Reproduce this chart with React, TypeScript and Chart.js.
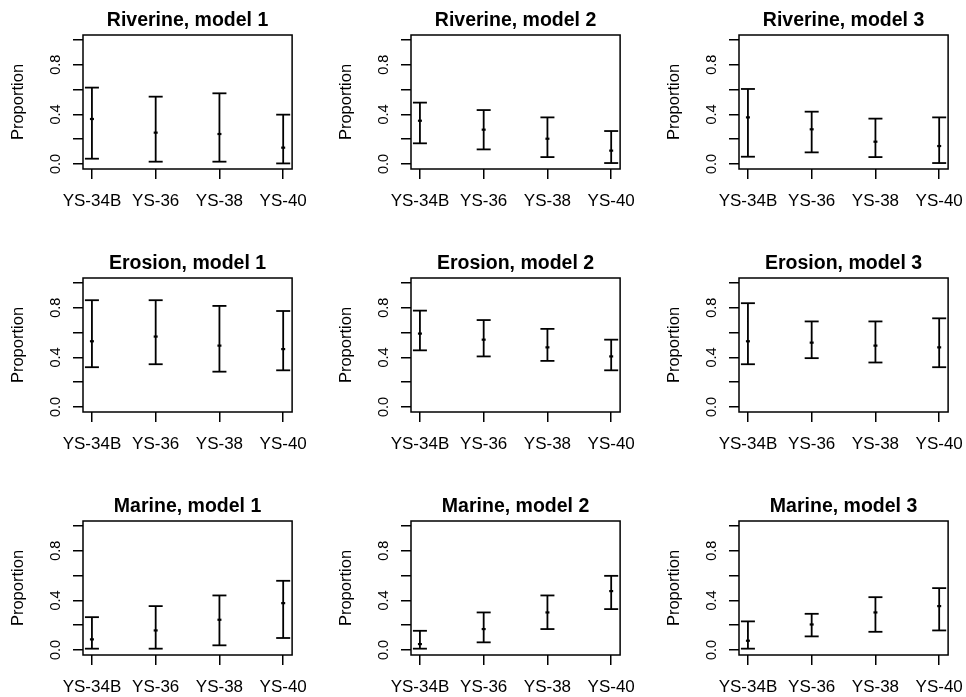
import React, { useEffect, useRef } from 'react';
import { Chart, registerables } from 'chart.js';

Chart.register(...registerables);

const categories = ['YS-34B', 'YS-36', 'YS-38', 'YS-40'];
const yTickValues = [0, 0.2, 0.4, 0.6, 0.8, 1.0];
const yTickLabels = ['0.0', '', '0.4', '', '0.8', ''];
const yAxisLabel = 'Proportion';

const panelTitles = [
  'Riverine, model 1', 'Riverine, model 2', 'Riverine, model 3',
  'Erosion, model 1', 'Erosion, model 2', 'Erosion, model 3',
  'Marine, model 1', 'Marine, model 2', 'Marine, model 3',
];

const riverine1Mid = [0.363, 0.253, 0.242, 0.132];
const riverine1Low = [0.043, 0.019, 0.019, 0.005];
const riverine1High = [0.616, 0.543, 0.570, 0.398];

const riverine2Mid = [0.349, 0.277, 0.204, 0.108];
const riverine2Low = [0.167, 0.118, 0.056, 0.008];
const riverine2High = [0.495, 0.435, 0.376, 0.266];

const riverine3Mid = [0.376, 0.280, 0.180, 0.145];
const riverine3Low = [0.059, 0.094, 0.056, 0.008];
const riverine3High = [0.605, 0.422, 0.366, 0.376];

const erosion1Mid = [0.530, 0.568, 0.495, 0.467];
const erosion1Low = [0.321, 0.345, 0.285, 0.296];
const erosion1High = [0.861, 0.861, 0.815, 0.774];

const erosion2Mid = [0.592, 0.543, 0.481, 0.408];
const erosion2Low = [0.457, 0.408, 0.372, 0.296];
const erosion2High = [0.777, 0.701, 0.630, 0.543];

const erosion3Mid = [0.530, 0.519, 0.495, 0.481];
const erosion3Low = [0.345, 0.394, 0.359, 0.321];
const erosion3High = [0.837, 0.690, 0.690, 0.715];

const marine1Mid = [0.086, 0.158, 0.244, 0.378];
const marine1Low = [0.011, 0.011, 0.038, 0.097];
const marine1High = [0.265, 0.354, 0.440, 0.558];

const marine2Mid = [0.048, 0.169, 0.303, 0.475];
const marine2Low = [0.011, 0.062, 0.169, 0.330];
const marine2High = [0.155, 0.303, 0.440, 0.598];

const marine3Mid = [0.075, 0.206, 0.303, 0.354];
const marine3Low = [0.011, 0.110, 0.147, 0.158];
const marine3High = [0.231, 0.292, 0.426, 0.499];

const panelMids = [riverine1Mid, riverine2Mid, riverine3Mid, erosion1Mid, erosion2Mid, erosion3Mid, marine1Mid, marine2Mid, marine3Mid];
const panelLows = [riverine1Low, riverine2Low, riverine3Low, erosion1Low, erosion2Low, erosion3Low, marine1Low, marine2Low, marine3Low];
const panelHighs = [riverine1High, riverine2High, riverine3High, erosion1High, erosion2High, erosion3High, marine1High, marine2High, marine3High];

const FONT = "'Liberation Sans', Arial, Helvetica, sans-serif";
const CANVAS_W = 320;
const CANVAS_H = 243;
const COL_STEP = 328;
const ROW_STEP = 243;

const boxPlugin = {
  id: 'rbox',
  afterDraw(chart: any) {
    const { ctx, chartArea } = chart;
    ctx.save();
    ctx.strokeStyle = '#000';
    ctx.lineWidth = 1.5;
    ctx.strokeRect(chartArea.left, chartArea.top, chartArea.right - chartArea.left, chartArea.bottom - chartArea.top);
    ctx.restore();
  },
};

function Panel({ title, mid, low, high, left, top }: { title: string; mid: number[]; low: number[]; high: number[]; left: number; top: number }) {
  const ref = useRef<HTMLCanvasElement | null>(null);
  useEffect(() => {
    if (!ref.current) return;
    const lineData: any[] = [];
    categories.forEach((_, i) => {
      lineData.push({ x: i + 1, y: low[i] });
      lineData.push({ x: i + 1, y: high[i] });
      lineData.push({ x: i + 1, y: null });
    });
    const capData: any[] = [];
    categories.forEach((_, i) => {
      capData.push({ x: i + 1, y: low[i] });
      capData.push({ x: i + 1, y: high[i] });
    });
    const midData = mid.map((v, i) => ({ x: i + 1, y: v }));
    const chart = new Chart(ref.current, {
      type: 'scatter',
      data: {
        datasets: [
          {
            data: lineData,
            showLine: true,
            spanGaps: false,
            borderColor: '#000',
            borderWidth: 1.8,
            pointRadius: 0,
          },
          {
            data: capData,
            showLine: false,
            pointStyle: 'line',
            pointRadius: 7,
            pointBorderWidth: 1.8,
            pointBorderColor: '#000',
            pointBackgroundColor: '#000',
          },
          {
            data: midData,
            showLine: false,
            pointStyle: 'line',
            pointRadius: 2,
            pointBorderWidth: 2.2,
            pointBorderColor: '#000',
            pointBackgroundColor: '#000',
          },
        ],
      },
      options: {
        animation: false,
        responsive: false,
        events: [],
        layout: { padding: { left: 0, right: 27, top: 0, bottom: 0 } },
        plugins: {
          legend: { display: false },
          tooltip: { enabled: false },
          title: {
            display: true,
            text: title,
            fullSize: false,
            color: '#000',
            font: { family: FONT, size: 19.5, weight: 'bold', lineHeight: 1.2 },
            padding: { top: 9, bottom: 2.6 },
          },
        },
        scales: {
          x: {
            type: 'linear',
            min: 0.86,
            max: 4.14,
            afterBuildTicks: (scale: any) => {
              scale.ticks = categories.map((_, i) => ({ value: i + 1 }));
            },
            afterFit: (scale: any) => {
              scale.height = 74;
            },
            ticks: {
              autoSkip: false,
              maxRotation: 0,
              minRotation: 0,
              color: '#000',
              padding: 12,
              font: { family: FONT, size: 17 },
              callback: (v: any) => categories[Math.round(Number(v)) - 1] ?? '',
            },
            grid: {
              display: true,
              drawOnChartArea: false,
              drawTicks: true,
              tickLength: 10,
              color: '#000',
              lineWidth: 1.5,
            },
            border: { display: false },
          },
          y: {
            type: 'linear',
            min: -0.04,
            max: 1.04,
            afterBuildTicks: (scale: any) => {
              scale.ticks = yTickValues.map((v) => ({ value: v }));
            },
            afterFit: (scale: any) => {
              scale.width = 83;
            },
            ticks: {
              autoSkip: false,
              minRotation: 90,
              maxRotation: 90,
              crossAlign: 'center',
              color: '#000',
              padding: 7.4,
              font: { family: FONT, size: 14.5 },
              callback: (v: any) => {
                const idx = yTickValues.findIndex((t) => Math.abs(t - Number(v)) < 1e-9);
                return idx >= 0 ? yTickLabels[idx] : '';
              },
            },
            title: {
              display: true,
              text: yAxisLabel,
              color: '#000',
              font: { family: FONT, size: 16.5, lineHeight: 1.2 },
              padding: { top: 8.1, bottom: 0 },
            },
            grid: {
              display: true,
              drawOnChartArea: false,
              drawTicks: true,
              tickLength: 10,
              color: '#000',
              lineWidth: 1.5,
            },
            border: { display: false },
          },
        },
      } as any,
      plugins: [boxPlugin],
    });
    return () => chart.destroy();
  }, [title, mid, low, high]);
  return (
    <canvas
      ref={ref}
      width={CANVAS_W}
      height={CANVAS_H}
      style={{ position: 'absolute', left, top, width: CANVAS_W, height: CANVAS_H }}
    />
  );
}

export default function App() {
  return (
    <div style={{ position: 'fixed', left: 0, top: 0, width: 966, height: 697, overflow: 'hidden', background: '#fff' }}>
      {panelTitles.map((t, k) => {
        const row = Math.floor(k / 3);
        const col = k % 3;
        return (
          <Panel
            key={t}
            title={t}
            mid={panelMids[k]}
            low={panelLows[k]}
            high={panelHighs[k]}
            left={col * COL_STEP}
            top={row * ROW_STEP}
          />
        );
      })}
    </div>
  );
}
